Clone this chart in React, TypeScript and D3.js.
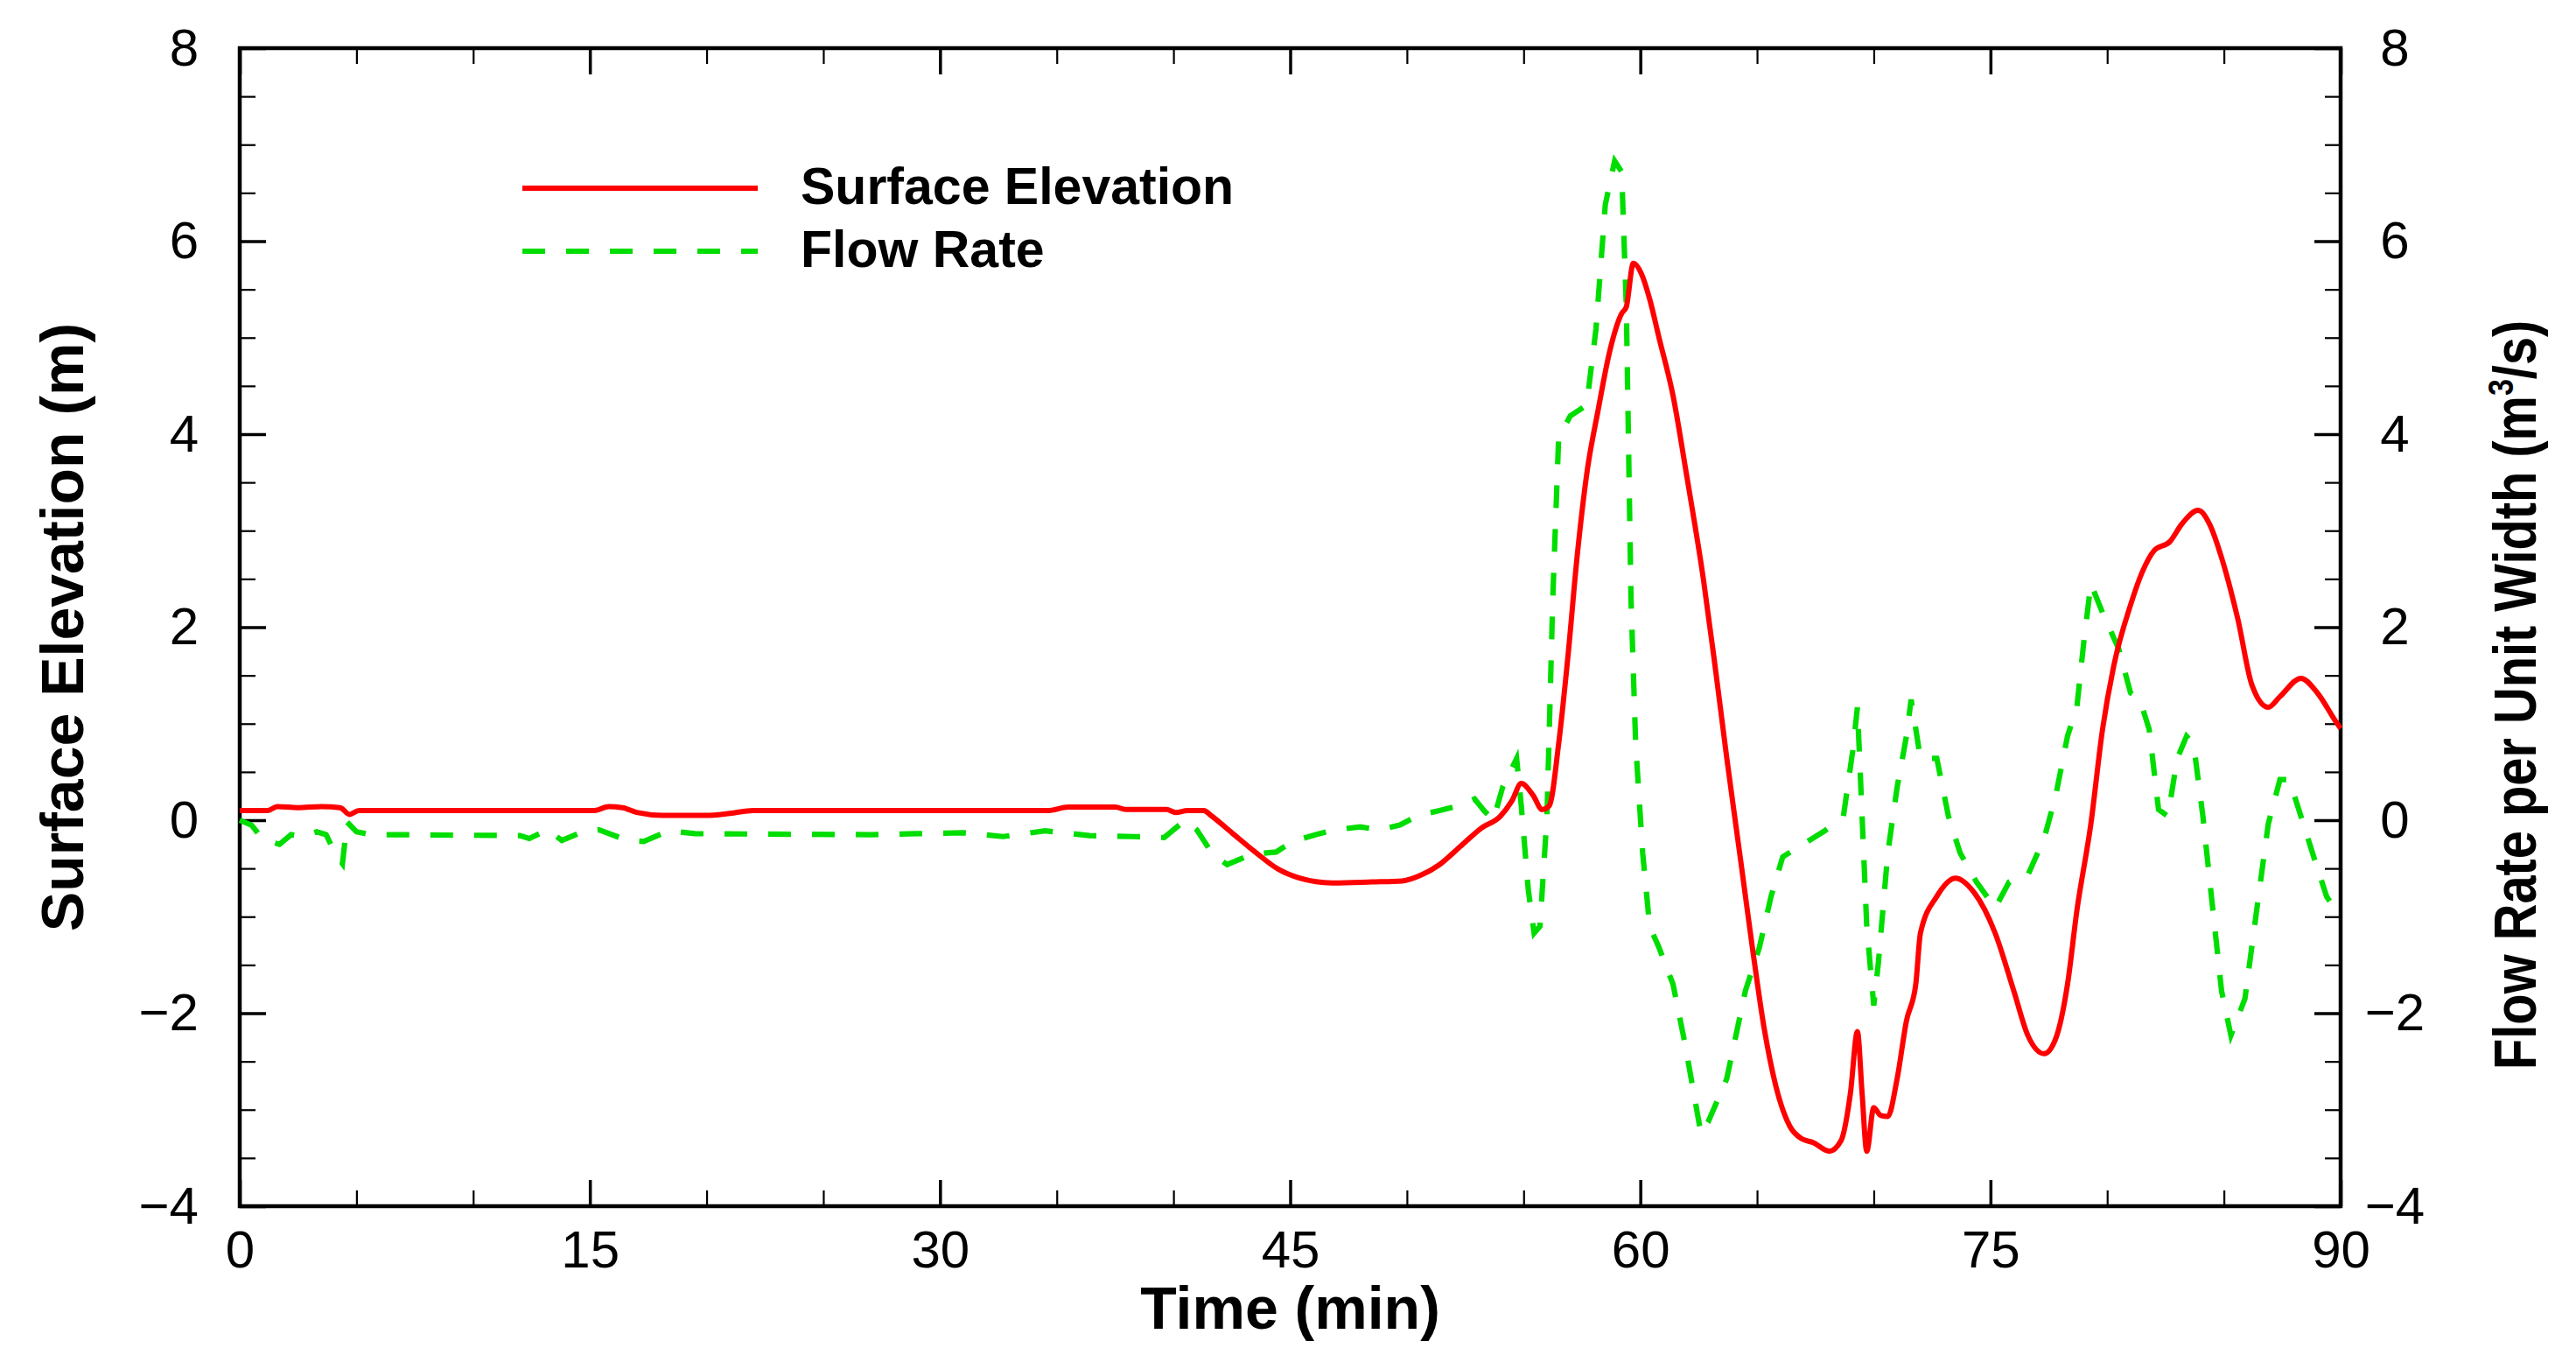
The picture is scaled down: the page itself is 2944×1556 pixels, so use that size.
import React, { useRef, useEffect } from 'react'
import * as d3 from 'd3'

// Surface elevation (m) vs time (min)
const elevTime = [
  0, 1.2, 1.6, 2.5, 3.5, 4.3, 4.7, 5.1, 15.2, 15.8, 16.4, 17.0, 18.1, 20.0, 21.0, 22.0,
  34.6, 35.5, 37.5, 38.0, 39.7, 40.1, 40.6, 41.3, 41.6, 42.5, 43.5, 44.5, 45.4, 46.8,
  48.5, 49.8, 50.6, 51.4, 52.3, 53.2, 54.0, 54.5, 54.9, 55.4, 55.8, 56.1, 56.5, 56.9,
  57.3, 57.7, 58.2, 58.7, 59.2, 59.4, 59.7, 60.05, 60.4, 60.8, 61.4, 62.0, 62.7, 63.2,
  63.7, 64.3, 64.8, 65.3, 65.8, 66.4, 66.9, 67.4, 68.1, 68.6, 69.0, 69.3, 69.5, 69.7,
  70.0, 70.3, 70.6, 71.0, 71.4, 71.8, 72.0, 72.7, 73.5, 74.3, 75.2, 76.0, 76.6, 77.3,
  77.8, 78.3, 78.7, 79.3, 79.8, 80.3, 81.0, 81.5, 82.0, 82.7, 83.2, 83.9, 84.4, 84.9,
  85.6, 86.2, 86.9, 87.4, 88.3, 89.0, 89.8, 90
]
const elevValue = [
  0.1, 0.1, 0.14, 0.13, 0.14, 0.13, 0.06, 0.1, 0.1, 0.14, 0.13, 0.08, 0.05, 0.05, 0.07, 0.1,
  0.1, 0.135, 0.135, 0.11, 0.11, 0.08, 0.1, 0.1, 0.05, -0.13, -0.33, -0.51, -0.6, -0.65,
  -0.64, -0.63, -0.57, -0.46, -0.27, -0.08, 0.04, 0.2, 0.38, 0.26, 0.11, 0.15, 0.79, 1.7,
  2.75, 3.58, 4.26, 4.87, 5.25, 5.32, 5.77, 5.66, 5.4, 5.0, 4.4, 3.55, 2.5, 1.6,
  0.65, -0.42, -1.32, -2.15, -2.75, -3.17, -3.3, -3.34, -3.43, -3.32, -2.83, -2.19, -2.83, -3.43,
  -2.98, -3.06, -3.07, -2.68, -2.08, -1.7, -1.17, -0.79, -0.6, -0.75, -1.17, -1.77, -2.23, -2.42,
  -2.26, -1.7, -0.94, -0.04, 0.94, 1.62, 2.23, 2.57, 2.79, 2.89, 3.07, 3.21, 3.06, 2.72,
  2.08, 1.4, 1.17, 1.28, 1.47, 1.32, 1.02, 0.95
]

// Flow rate per unit width (m3/s) vs time (min)
const flowTime = [
  0, 0.5, 1.0, 1.7, 2.2, 2.7, 3.3, 3.7, 4.1, 4.4, 4.6, 5.0, 5.6, 6.5, 12.0, 12.4, 13.2,
  13.8, 14.8, 15.4, 16.6, 17.3, 18.4, 19.5, 27.0, 29.0, 31.0, 32.7, 34.5, 36.4, 38.3,
  39.6, 40.5, 41.0, 41.7, 42.3, 43.4, 44.4, 45.1, 46.1, 46.9, 48.0, 48.8, 49.7, 50.5,
  51.4, 52.2, 52.9, 53.3, 53.7, 54.1, 54.7, 54.9, 55.2, 55.45, 55.7, 56.0, 56.25, 56.5,
  57.0, 57.7, 58.1, 58.5, 58.9, 59.2, 59.4, 59.6, 59.8, 60.1, 60.4, 60.8, 61.4, 61.9,
  62.6, 62.9, 63.7, 64.5, 65.1, 65.6, 66.1, 66.9, 67.9, 68.7, 69.1, 69.3, 69.5, 69.7,
  70.0, 70.2, 70.6, 71.0, 71.4, 71.6, 72.0, 72.7, 73.2, 73.7, 74.4, 75.2, 75.8, 76.6,
  77.3, 77.8, 78.3, 78.7, 79.0, 79.3, 79.8, 80.5, 81.0, 81.4, 81.8, 82.2, 82.6, 83.0,
  83.4, 83.7, 84.1, 84.5, 84.9, 85.3, 85.9, 86.4, 86.9, 87.4, 87.8, 88.3, 88.9, 89.4,
  89.8, 90
]
const flowValue = [
  0.0, -0.05, -0.2, -0.25, -0.15, -0.17, -0.12, -0.15, -0.35, -0.45, -0.02, -0.12, -0.15, -0.15, -0.16, -0.19, -0.1,
  -0.21, -0.11, -0.1, -0.21, -0.22, -0.11, -0.14, -0.15, -0.14, -0.13, -0.17, -0.11, -0.16, -0.17,
  -0.18, 0.0, -0.1, -0.36, -0.46, -0.35, -0.33, -0.22, -0.15, -0.1, -0.07, -0.1, -0.05, 0.05,
  0.1, 0.15, 0.22, 0.1, 0.0, 0.34, 0.64, 0.15, -0.72, -1.17, -1.1, 0.04, 2.3, 3.96,
  4.19, 4.3, 5.09, 6.38, 6.83, 6.72, 5.32, 2.3, 0.79, -0.34, -1.1, -1.32, -1.7, -2.3,
  -3.25, -3.13, -2.68, -1.77, -1.32, -0.79, -0.38, -0.26, -0.11, 0.04, 0.72, 1.17, 0.04, -1.1,
  -1.92, -1.47, -0.34, 0.34, 0.87, 1.25, 0.64, 0.64, 0.04, -0.34, -0.64, -0.91, -0.64, -0.57,
  -0.19, 0.26, 0.87, 1.17, 1.85, 2.45, 2.15, 1.77, 1.32, 1.25, 0.94, 0.11, 0.04, 0.64,
  0.87, 0.79, 0.04, -0.87, -1.77, -2.23, -1.85, -0.94, -0.04, 0.42, 0.42, 0.04, -0.42, -0.79,
  -0.94, -0.98
]

const xTicks = [0, 15, 30, 45, 60, 75, 90]
const yTicks = [-4, -2, 0, 2, 4, 6, 8]
const legendLabels = ['Surface Elevation', 'Flow Rate']

const WIDTH = 2944
const HEIGHT = 1556
const PLOT = { left: 274, right: 2675, top: 55, bottom: 1378 }

const RED = '#ff0000'
const GREEN = '#00dd00'
const DASH = '26,24'
const FONT = '"Liberation Sans", Arial, Helvetica, sans-serif'

export default function App() {
  const svgRef = useRef<SVGSVGElement>(null)

  useEffect(() => {
    if (!svgRef.current) return
    const svg = d3.select(svgRef.current)
    svg.selectAll('*').remove()

    const x = d3.scaleLinear().domain([0, 90]).range([PLOT.left, PLOT.right])
    const y = d3.scaleLinear().domain([-4, 8]).range([PLOT.bottom, PLOT.top])
    const y2 = d3.scaleLinear().domain([-4, 8]).range([PLOT.bottom, PLOT.top])

    const minorX = d3.range(0, 90.01, 5).filter(v => v % 15 !== 0)
    const minorY = d3.range(-4, 8.01, 0.5).filter(v => v % 2 !== 0)

    const styleAxis = (g: any, labelled: boolean, width: number) => {
      g.select('.domain').remove()
      g.selectAll('line').attr('stroke', '#000').attr('stroke-width', width)
      g.attr('font-family', FONT).attr('font-size', 60)
      g.selectAll('text').attr('fill', '#000')
      if (!labelled) g.selectAll('text').remove()
    }

    // minor ticks (all four sides, inward)
    svg.append('g').attr('transform', `translate(${PLOT.left},0)`)
      .call(d3.axisLeft(y).tickValues(minorY).tickSize(-18))
      .call(g => styleAxis(g, false, 2.2))
    svg.append('g').attr('transform', `translate(${PLOT.right},0)`)
      .call(d3.axisRight(y2).tickValues(minorY).tickSize(-18))
      .call(g => styleAxis(g, false, 2.2))
    svg.append('g').attr('transform', `translate(0,${PLOT.bottom})`)
      .call(d3.axisBottom(x).tickValues(minorX).tickSize(-18))
      .call(g => styleAxis(g, false, 2.2))
    svg.append('g').attr('transform', `translate(0,${PLOT.top})`)
      .call(d3.axisTop(x).tickValues(minorX).tickSize(-18))
      .call(g => styleAxis(g, false, 2.2))

    // major ticks with labels
    svg.append('g').attr('transform', `translate(${PLOT.left},0)`)
      .call(d3.axisLeft(y).tickValues(yTicks).tickSize(-30).tickPadding(47).tickFormat(d3.format('d')))
      .call(g => styleAxis(g, true, 3.5))
    svg.append('g').attr('transform', `translate(${PLOT.right},0)`)
      .call(d3.axisRight(y2).tickValues(yTicks).tickSize(-30).tickPadding(62).tickFormat(d3.format('d')))
      .call(g => styleAxis(g, true, 3.5))
      .call(g => g.selectAll('text').attr('text-anchor', 'middle'))
    svg.append('g').attr('transform', `translate(0,${PLOT.bottom})`)
      .call(d3.axisBottom(x).tickValues(xTicks).tickSize(-30).tickPadding(27).tickFormat(d3.format('d')))
      .call(g => styleAxis(g, true, 3.5))
    svg.append('g').attr('transform', `translate(0,${PLOT.top})`)
      .call(d3.axisTop(x).tickValues(xTicks).tickSize(-30))
      .call(g => styleAxis(g, false, 3.5))

    // frame
    svg.append('rect')
      .attr('x', PLOT.left).attr('y', PLOT.top)
      .attr('width', PLOT.right - PLOT.left).attr('height', PLOT.bottom - PLOT.top)
      .attr('fill', 'none').attr('stroke', '#000').attr('stroke-width', 4.5)

    // series
    const elevLine = d3.line<number>()
      .x((d, i) => x(elevTime[i]))
      .y(d => y(d))
      .curve(d3.curveMonotoneX)
    const flowLine = d3.line<number>()
      .x((d, i) => x(flowTime[i]))
      .y(d => y2(d))

    svg.append('path')
      .attr('d', flowLine(flowValue))
      .attr('fill', 'none').attr('stroke', GREEN).attr('stroke-width', 6.2)
      .attr('stroke-dasharray', DASH)
    svg.append('path')
      .attr('d', elevLine(elevValue))
      .attr('fill', 'none').attr('stroke', RED).attr('stroke-width', 6)
      .attr('stroke-linejoin', 'round')

    // legend
    const legend = svg.append('g')
    const legendRows = [
      { label: legendLabels[0], color: RED, dash: null, yPos: 215 },
      { label: legendLabels[1], color: GREEN, dash: DASH, yPos: 287 }
    ]
    legendRows.forEach(r => {
      legend.append('line')
        .attr('x1', 597).attr('x2', 866).attr('y1', r.yPos).attr('y2', r.yPos)
        .attr('stroke', r.color).attr('stroke-width', 6)
        .attr('stroke-dasharray', r.dash)
      legend.append('text')
        .attr('x', 915).attr('y', r.yPos + 18)
        .attr('font-family', FONT).attr('font-size', 59).attr('font-weight', 'bold')
        .attr('fill', '#000')
        .text(r.label)
    })

    // axis titles
    svg.append('text')
      .attr('x', (PLOT.left + PLOT.right) / 2).attr('y', 1518)
      .attr('text-anchor', 'middle')
      .attr('font-family', FONT).attr('font-size', 68).attr('font-weight', 'bold')
      .text('Time (min)')

    svg.append('text')
      .attr('transform', `translate(95,${(PLOT.top + PLOT.bottom) / 2}) rotate(-90)`)
      .attr('text-anchor', 'middle')
      .attr('font-family', FONT).attr('font-size', 68).attr('font-weight', 'bold')
      .text('Surface Elevation (m)')

    const rt = svg.append('text')
      .attr('transform', 'translate(2898,1222) rotate(-90) scale(0.85,1)')
      .attr('text-anchor', 'start')
      .attr('font-family', FONT).attr('font-size', 68).attr('font-weight', 'bold')
    rt.append('tspan').text('Flow Rate per Unit Width (m')
    rt.append('tspan').attr('dy', -26).attr('font-size', 40).text('3')
    rt.append('tspan').attr('dy', 26).text('/s)')
  }, [])

  return (
    <svg
      ref={svgRef}
      width={WIDTH}
      height={HEIGHT}
      style={{ position: 'absolute', left: 0, top: 0, background: '#fff' }}
    />
  )
}
